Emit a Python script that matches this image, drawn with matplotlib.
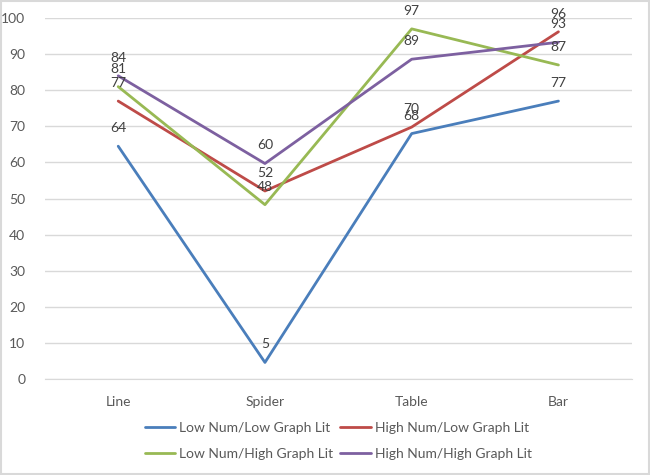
import matplotlib
matplotlib.use('Agg')
import matplotlib.pyplot as plt
import numpy as np

categories = ['Line', 'Spider', 'Table', 'Bar']
low_low = [64.5, 4.6, 68.0, 77.0]
high_low = [77.0, 52.1, 69.8, 96.2]
low_high = [81.0, 48.3, 97.0, 87.0]
high_high = [84.0, 59.7, 88.6, 93.3]

series = [
    ('Low Num/Low Graph Lit', low_low, '#4a7ebb'),
    ('High Num/Low Graph Lit', high_low, '#be4b48'),
    ('Low Num/High Graph Lit', low_high, '#98b954'),
    ('High Num/High Graph Lit', high_high, '#7d60a0'),
]

plt.rcParams['font.family'] = ['Lato', 'DejaVu Sans']

fig = plt.figure(figsize=(6.5, 4.75), dpi=100)
ax = fig.add_axes([0.069, 0.202, 0.903, 0.76])

x = np.arange(len(categories))
lines = []
for name, vals, color in series:
    ln, = ax.plot(x, vals, color=color, lw=2.0, label=name, solid_capstyle='round')
    lines.append(ln)
    for xi, v in zip(x, vals):
        ax.annotate(f'{v:.0f}', (xi, v), xytext=(0, 13), textcoords='offset points',
                    ha='center', va='center', fontsize=10, color='#404040')

ax.set_xlim(-0.5, 3.5)
ax.set_ylim(0, 100)
ax.set_yticks(np.arange(0, 101, 10))
ax.set_xticks(x)
ax.set_xticklabels(categories)
ax.tick_params(length=0, colors='#595959', labelsize=10)
ax.tick_params(axis='x', pad=12)
ax.tick_params(axis='y', pad=14)
ax.yaxis.grid(True, color='#d9d9d9', lw=1)
ax.set_axisbelow(True)
for s in ['top', 'right', 'left']:
    ax.spines[s].set_visible(False)
ax.spines['bottom'].set_color('#d9d9d9')

# row-major legend order like Excel
order = [0, 2, 1, 3]
ax.legend([lines[i] for i in order], [series[i][0] for i in order],
          loc='upper center', bbox_to_anchor=(0.5, -0.085), ncol=2, frameon=False,
          fontsize=10, handlelength=2.2, handletextpad=0.3, columnspacing=0.5,
          labelcolor='#595959', labelspacing=1.0)

# chart border
fig.patches.append(plt.Rectangle((0.002, 0.002), 0.996, 0.996, transform=fig.transFigure,
                                 fill=False, edgecolor='#d9d9d9', lw=1.5))

fig.savefig('out.png', dpi=100)
